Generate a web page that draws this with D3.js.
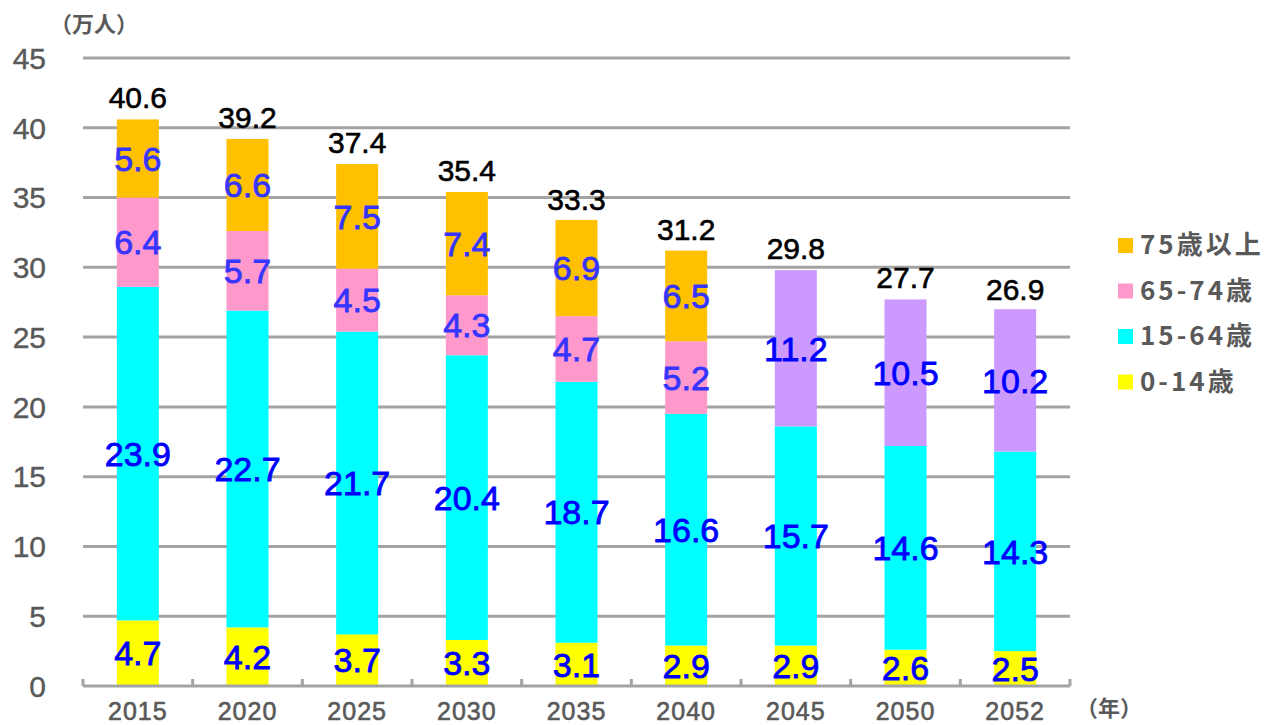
<!DOCTYPE html>
<html>
<head>
<meta charset="utf-8">
<script src="https://cdn.jsdelivr.net/npm/d3@7"></script>
<style>
  body { margin: 0; background: #fff; }
  svg { display: block; font-family: 'Liberation Sans', Arial, 'Noto Sans CJK JP', sans-serif; }
  .jp { font-family: 'Noto Sans CJK JP', sans-serif; }
</style>
</head>
<body>
<svg id="chart"></svg>
<script>
// data (units: 10,000 people)
const years = ['2015', '2020', '2025', '2030', '2035', '2040', '2045', '2050', '2052']
const age0to14 = [4.7, 4.2, 3.7, 3.3, 3.1, 2.9, 2.9, 2.6, 2.5]
const age15to64 = [23.9, 22.7, 21.7, 20.4, 18.7, 16.6, 15.7, 14.6, 14.3]
const age65to74 = [6.4, 5.7, 4.5, 4.3, 4.7, 5.2, null, null, null]
const age75plus = [5.6, 6.6, 7.5, 7.4, 6.9, 6.5, null, null, null]
const age65plus = [null, null, null, null, null, null, 11.2, 10.5, 10.2]
const totals = [40.6, 39.2, 37.4, 35.4, 33.3, 31.2, 29.8, 27.7, 26.9]
const yTicks = [0, 5, 10, 15, 20, 25, 30, 35, 40, 45]

const keys = ['a0', 'a15', 'a65', 'a75', 'a65p']
const colors = { a0: '#FFFF00', a15: '#00FFFF', a65: '#FF99CC', a75: '#FFC000', a65p: '#CC99FF' }
const labelColors = { a0: '#0000FF', a15: '#0000FF', a65: '#3535FF', a75: '#3535FF', a65p: '#0000FF' }
const legendItems = [
  { key: 'a75', name: '75歳以上' },
  { key: 'a65', name: '65-74歳' },
  { key: 'a15', name: '15-64歳' },
  { key: 'a0', name: '0-14歳' },
]

const rows = years.map((y, i) => ({
  year: y,
  a0: age0to14[i],
  a15: age15to64[i],
  a65: age65to74[i] || 0,
  a75: age75plus[i] || 0,
  a65p: age65plus[i] || 0,
  total: totals[i],
}))

const svgWidth = 1274
const svgHeight = 725
const svg = d3.select('#chart').attr('width', svgWidth).attr('height', svgHeight)

const plotLeft = 83,
  plotRight = 1070,
  plotBottom = 686,
  plotTop = 58

const x = d3.scaleBand().domain(years).range([plotLeft, plotRight]).paddingInner(0.617).paddingOuter(0.3085)
const y = d3.scaleLinear().domain([0, 45]).range([plotBottom, plotTop])

const grey = '#595959'
const gridColor = '#A3A3A3'

// gridlines
svg
  .append('g')
  .selectAll('line')
  .data(yTicks.filter((d) => d > 0))
  .join('line')
  .attr('x1', plotLeft)
  .attr('x2', plotRight)
  .attr('y1', (d) => y(d))
  .attr('y2', (d) => y(d))
  .attr('stroke', gridColor)
  .attr('stroke-width', 3)

// y tick labels
svg
  .append('g')
  .selectAll('text')
  .data(yTicks)
  .join('text')
  .attr('x', 46)
  .attr('y', (d) => y(d))
  .attr('dy', '0.36em')
  .attr('text-anchor', 'end')
  .attr('font-size', 30)
  .attr('fill', grey)
  .attr('stroke', grey)
  .attr('stroke-width', 0.4)
  .text((d) => d)

// stacked bars
const series = d3.stack().keys(keys)(rows)

const barG = svg.append('g')
series.forEach((s) => {
  barG
    .append('g')
    .selectAll('rect')
    .data(s.filter((d) => d[1] - d[0] > 0))
    .join('rect')
    .attr('x', (d) => x(d.data.year))
    .attr('width', x.bandwidth())
    .attr('y', (d) => y(d[1]))
    .attr('height', (d) => y(d[0]) - y(d[1]))
    .attr('fill', colors[s.key])
})

// x axis line with tick marks between categories
const step = x.step()
svg
  .append('line')
  .attr('x1', plotLeft)
  .attr('x2', plotRight)
  .attr('y1', plotBottom)
  .attr('y2', plotBottom)
  .attr('stroke', gridColor)
  .attr('stroke-width', 3)

svg
  .append('g')
  .selectAll('line')
  .data(d3.range(years.length + 1))
  .join('line')
  .attr('x1', (i) => plotLeft + i * step)
  .attr('x2', (i) => plotLeft + i * step)
  .attr('y1', plotBottom)
  .attr('y2', plotBottom - 7)
  .attr('stroke', gridColor)
  .attr('stroke-width', 3)

// segment labels
series.forEach((s) => {
  barG
    .append('g')
    .selectAll('text')
    .data(s.filter((d) => d[1] - d[0] > 0))
    .join('text')
    .attr('x', (d) => x(d.data.year) + x.bandwidth() / 2)
    .attr('y', (d) => y((d[0] + d[1]) / 2))
    .attr('dy', '0.36em')
    .attr('text-anchor', 'middle')
    .attr('font-size', 34)
    .attr('fill', labelColors[s.key])
    .attr('stroke', labelColors[s.key])
    .attr('stroke-width', 0.8)
    .text((d) => d3.format('.1f')(d[1] - d[0]))
})

// totals on top
svg
  .append('g')
  .selectAll('text')
  .data(rows)
  .join('text')
  .attr('x', (d) => x(d.year) + x.bandwidth() / 2)
  .attr('y', (d) => y(d.total) - 11)
  .attr('text-anchor', 'middle')
  .attr('font-size', 30)
  .attr('fill', '#000')
  .attr('stroke', '#000')
  .attr('stroke-width', 0.6)
  .text((d) => d3.format('.1f')(d.total))

// x labels
svg
  .append('g')
  .selectAll('text')
  .data(years)
  .join('text')
  .attr('x', (d) => x(d) + x.bandwidth() / 2)
  .attr('y', 720)
  .attr('text-anchor', 'middle')
  .attr('font-size', 25)
  .attr('letter-spacing', 1)
  .attr('fill', grey)
  .attr('stroke', grey)
  .attr('stroke-width', 0.6)
  .text((d) => d)

// unit labels
svg
  .append('text')
  .attr('class', 'jp')
  .attr('x', 50)
  .attr('y', 32)
  .attr('font-size', 22)
  .attr('font-weight', 'bold')
  .attr('fill', grey)
  .text('（万人）')

svg
  .append('text')
  .attr('class', 'jp')
  .attr('x', 1076)
  .attr('y', 716)
  .attr('font-size', 22)
  .attr('font-weight', 'bold')
  .attr('fill', grey)
  .text('（年）')

// legend
const legend = svg
  .append('g')
  .selectAll('g')
  .data(legendItems)
  .join('g')
  .attr('transform', (d, i) => `translate(1118, ${245 + i * 45.5})`)

legend
  .append('rect')
  .attr('x', 0)
  .attr('y', -7)
  .attr('width', 15)
  .attr('height', 15)
  .attr('fill', (d) => colors[d.key])

legend
  .append('text')
  .attr('class', 'jp')
  .attr('x', 22)
  .attr('y', 0)
  .attr('dy', '0.36em')
  .attr('font-size', 26)
  .attr('font-weight', 'bold')
  .attr('letter-spacing', 3)
  .attr('fill', grey)
  .text((d) => d.name)
</script>
</body>
</html>
